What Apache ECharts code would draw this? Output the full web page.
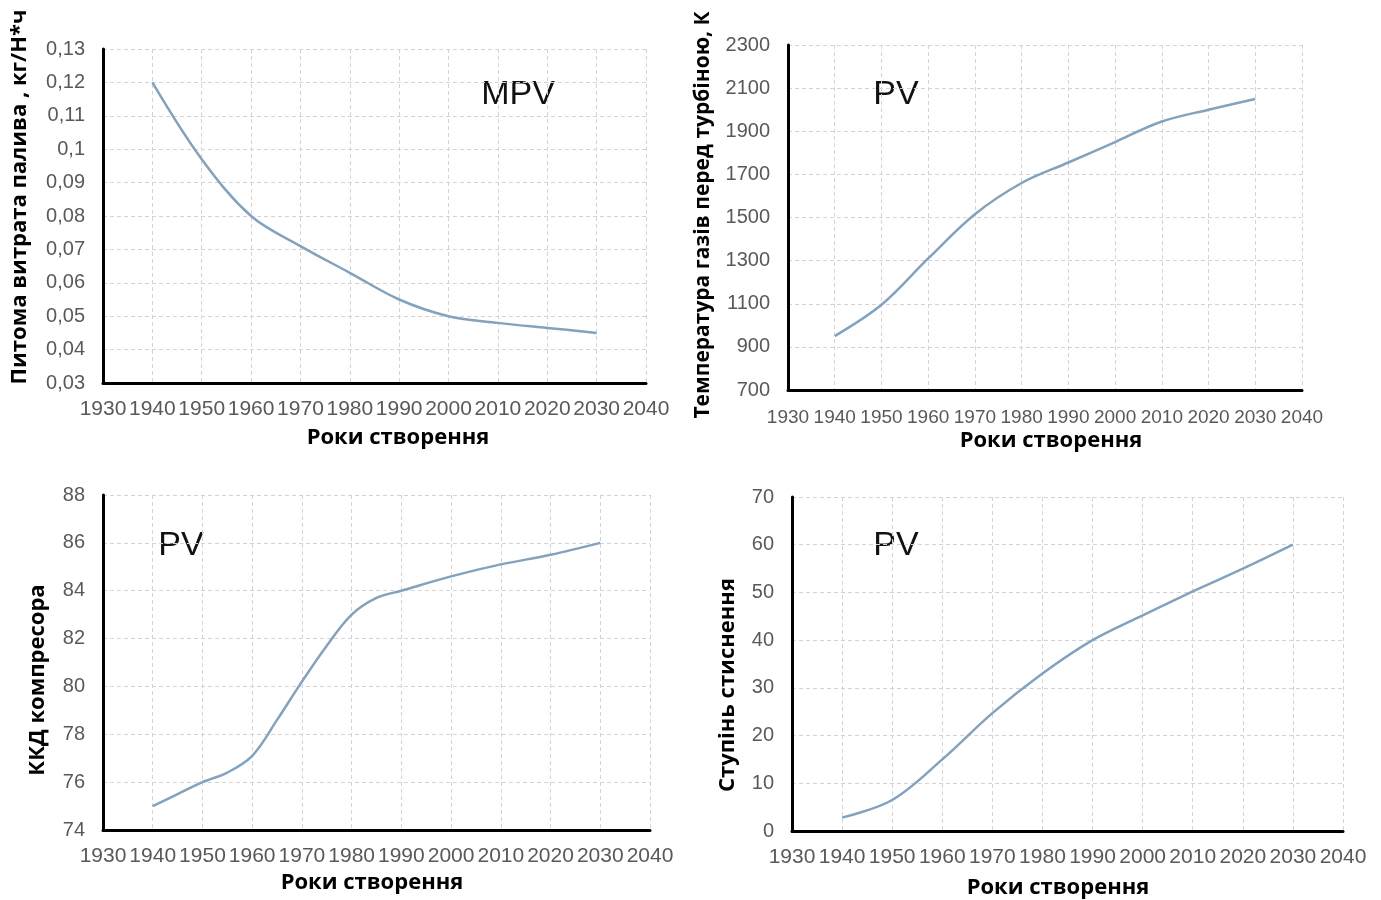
<!DOCTYPE html>
<html>
<head>
<meta charset="utf-8">
<script src="https://cdn.jsdelivr.net/npm/echarts@6/dist/echarts.min.js"></script>
<style>
html,body{margin:0;padding:0;background:#fff;}
#c{width:1381px;height:900px;}
</style>
</head>
<body>
<div id="c"></div>
<script>
// ---- data ----
const years = [1940, 1950, 1960, 1970, 1980, 1990, 2000, 2010, 2020, 2030];
const fuelConsumption = [0.120, 0.097, 0.080, 0.071, 0.063, 0.055, 0.050, 0.048, 0.0465, 0.045];
const gasTemperature = [950, 1095, 1310, 1515, 1660, 1755, 1850, 1945, 2000, 2050];
const compressorYears = [1940, 1945, 1950, 1955, 1960, 1965, 1970, 1975, 1980, 1985, 1990, 2000, 2010, 2020, 2030];
const compressorEfficiency = [75.0, 75.5, 76.0, 76.4, 77.1, 78.6, 80.2, 81.7, 83.0, 83.7, 84.0, 84.6, 85.1, 85.5, 86.0];
const pressureRatio = [2.8, 6.5, 15.0, 24.7, 33.0, 40.0, 45.2, 50.2, 55.0, 60.0];

const xTitle = 'Роки створення';
const yTitles = ['Питома витрата палива , кг/Н*ч', 'Температура газів перед турбіною, К', 'ККД компресора', 'Ступінь стиснення'];
const notes = ['MPV', 'PV', 'PV', 'PV'];

// ---- styles ----
const lineColor = '#82a2bd';
const labelFont = "'Liberation Sans', Arial, sans-serif";
const titleFont = "'Open Sans', 'Liberation Sans', sans-serif";
const gridDash = { color: '#d4d4d4', width: 1, type: [4, 3] };

const grids = [
  { left: 103, top: 49, width: 543, height: 334 },
  { left: 788, top: 45, width: 514, height: 345 },
  { left: 103, top: 495, width: 547, height: 335 },
  { left: 792, top: 497, width: 551, height: 334 }
];
const xLabelSize = [21, 19, 21, 21];

const yCfg = [
  { min: 0.03, max: 0.13, interval: 0.01, fmt: v => String(+v.toFixed(2)).replace('.', ',') },
  { min: 700, max: 2300, interval: 200, fmt: v => String(v) },
  { min: 74, max: 88, interval: 2, fmt: v => String(v) },
  { min: 0, max: 70, interval: 10, fmt: v => String(v) }
];

const pair = (xs, ys) => xs.map((x, i) => [x, ys[i]]);
const seriesData = [
  pair(years, fuelConsumption),
  pair(years, gasTemperature),
  pair(compressorYears, compressorEfficiency),
  pair(years, pressureRatio)
];

const xAxes = grids.map((g, i) => ({
  type: 'value', gridIndex: i, min: 1930, max: 2040, interval: 10,
  axisLine: { show: true, onZero: false, lineStyle: { color: '#000', width: 3 } },
  axisTick: { show: false },
  axisLabel: { color: '#595959', fontFamily: labelFont, fontSize: xLabelSize[i], margin: i === 1 ? 18 : 16, formatter: v => String(v) },
  splitLine: { show: true, lineStyle: gridDash }
}));

const yAxes = grids.map((g, i) => ({
  type: 'value', gridIndex: i, min: yCfg[i].min, max: yCfg[i].max, interval: yCfg[i].interval,
  axisLine: { show: true, lineStyle: { color: '#000', width: 3 } },
  axisTick: { show: false },
  axisLabel: { color: '#595959', fontFamily: labelFont, fontSize: 20, margin: 18, formatter: yCfg[i].fmt },
  splitLine: { show: true, lineStyle: gridDash }
}));

const series = seriesData.map((d, i) => ({
  type: 'line', xAxisIndex: i, yAxisIndex: i, data: d, smooth: 0.35,
  showSymbol: false, lineStyle: { color: lineColor, width: 2.5 }, itemStyle: { color: lineColor }
}));

const yTitlePos = [[20, 197], [703, 215], [38, 680], [728, 685]];
const xTitlePos = [[398, 438], [1051, 441], [372, 883], [1058, 888]];
const notePos = [[518, 95], [896, 95], [181, 546], [896, 546]];

const graphics = [];
yTitles.forEach((t, i) => {
  graphics.push({
    type: 'text', x: yTitlePos[i][0], y: yTitlePos[i][1], rotation: Math.PI / 2,
    style: { text: t, fill: '#000', font: "bold " + (i === 1 ? 21 : 22) + "px " + titleFont, align: 'center', verticalAlign: 'middle' }
  });
});
xTitlePos.forEach((p, i) => {
  graphics.push({
    type: 'text', x: p[0], y: p[1],
    style: { text: xTitle, fill: '#000', font: "bold 22px " + titleFont, align: 'center', verticalAlign: 'middle' }
  });
});
notes.forEach((t, i) => {
  graphics.push({
    type: 'text', x: notePos[i][0], y: notePos[i][1],
    style: { text: t, fill: '#111', font: "34px " + labelFont, align: 'center', verticalAlign: 'middle' }
  });
});

const chart = echarts.init(document.getElementById('c'));
chart.setOption({
  animation: false,
  backgroundColor: '#fff',
  grid: grids,
  xAxis: xAxes,
  yAxis: yAxes,
  series: series,
  graphic: graphics
});
</script>
</body>
</html>
